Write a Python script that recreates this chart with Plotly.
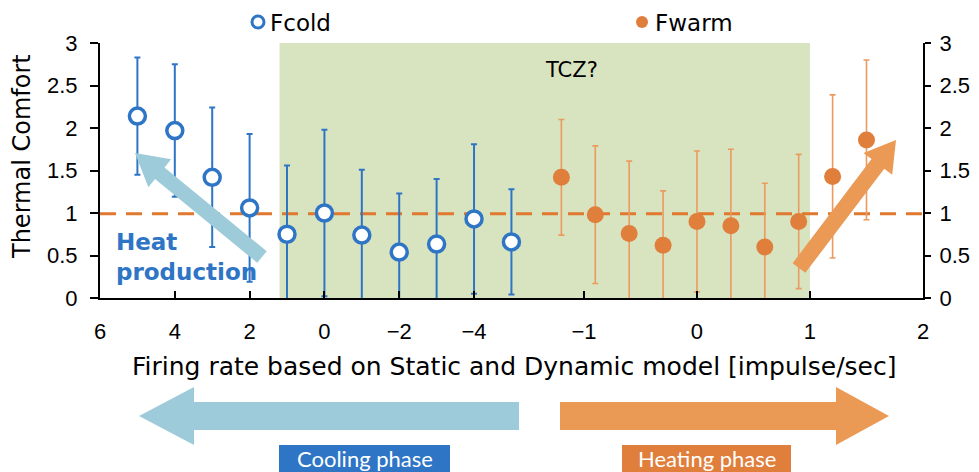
import plotly.graph_objects as go

# Thermal comfort vs. firing rate (static + dynamic model)
cold_x = [5, 4, 3, 2, 1, 0, -1, -2, -3, -4, -5]
cold_y = [2.14, 1.97, 1.42, 1.06, 0.75, 1.00, 0.74, 0.54, 0.635, 0.93, 0.66]
cold_err = [0.69, 0.78, 0.82, 0.87, 0.81, 0.98, 0.77, 0.69, 0.765, 0.88, 0.62]

warm_x = [-1.2, -0.9, -0.6, -0.3, 0.0, 0.3, 0.6, 0.9, 1.2, 1.5]
warm_y = [1.42, 0.98, 0.76, 0.62, 0.90, 0.85, 0.60, 0.90, 1.43, 1.86]
warm_err = [0.68, 0.81, 0.85, 0.64, 0.83, 0.90, 0.75, 0.79, 0.96, 0.94]

cold_ticks = [6, 4, 2, 0, -2, -4]
warm_ticks = [-1, 0, 1, 2]
y_ticks = [0, 0.5, 1, 1.5, 2, 2.5, 3]

comfort_level = 0.99
tcz_cold_start = 1.2   # left edge of the comfort zone on the cold scale
tcz_warm_end = 1.0     # right edge on the warm scale

BLUE = "#2e75c6"
ORANGE = "#e07e3c"
ORANGE_BAR = "#eb9a60"
CYAN_ARROW = "#9ecbda"
ORANGE_ARROW = "#eb9a56"
GREEN = "#d8e4bf"

W, H = 979, 472
L, R, T, B = 100, 56, 43, 174
PW, PH = W - L - R, H - T - B
SPLIT = (532 - L) / PW

COLD_RANGE = [6, -5.55]
WARM_RANGE = [-1.46, 2]


def px(x, y):
    """Pixel position -> paper coordinates."""
    return (x - L) / PW, (H - B - y) / PH


def cold_to_paper(v):
    return SPLIT * (v - COLD_RANGE[0]) / (COLD_RANGE[1] - COLD_RANGE[0])


def warm_to_paper(v):
    return SPLIT + (1 - SPLIT) * (v - WARM_RANGE[0]) / (WARM_RANGE[1] - WARM_RANGE[0])


def arrow_path(tail, tip, body_hw, head_hw, head_len):
    tx, ty = tail
    hx, hy = tip
    dx, dy = hx - tx, hy - ty
    n = (dx * dx + dy * dy) ** 0.5
    ux, uy = dx / n, dy / n
    nx, ny = -uy, ux
    bx, by = hx - ux * head_len, hy - uy * head_len
    pts = [
        (tx + nx * body_hw, ty + ny * body_hw),
        (bx + nx * body_hw, by + ny * body_hw),
        (bx + nx * head_hw, by + ny * head_hw),
        (hx, hy),
        (bx - nx * head_hw, by - ny * head_hw),
        (bx - nx * body_hw, by - ny * body_hw),
        (tx - nx * body_hw, ty - ny * body_hw),
    ]
    pp = [px(*p) for p in pts]
    return "M " + " L ".join(f"{a:.5f},{b:.5f}" for a, b in pp) + " Z"


fig = go.Figure()

fig.add_trace(go.Scatter(
    x=cold_x, y=cold_y, mode="markers", name="Fcold",
    xaxis="x", yaxis="y",
    marker=dict(size=16, color="white", line=dict(color=BLUE, width=3.5)),
    error_y=dict(type="data", array=cold_err, color=BLUE, thickness=2, width=3),
    showlegend=False,
))

fig.add_trace(go.Scatter(
    x=warm_x, y=warm_y, mode="markers", name="Fwarm",
    xaxis="x2", yaxis="y2",
    marker=dict(size=17, color=ORANGE),
    error_y=dict(type="data", array=warm_err, color=ORANGE_BAR, thickness=1.6, width=3),
    showlegend=False,
))

shapes = [
    # thermal comfort zone, spanning both scales
    dict(type="rect", xref="paper", yref="y",
         x0=cold_to_paper(tcz_cold_start), x1=warm_to_paper(tcz_warm_end),
         y0=0, y1=3, fillcolor=GREEN, line=dict(width=0), layer="below"),
    # neutral comfort level
    dict(type="line", xref="paper", yref="y", x0=0, x1=1,
         y0=comfort_level, y1=comfort_level,
         line=dict(color="#e0782f", width=3, dash="16px,10px"), layer="below"),
    # diagonal trend arrows
    dict(type="path", xref="paper", yref="paper",
         path=arrow_path((262, 257), (135, 153), 7.5, 18, 32),
         fillcolor=CYAN_ARROW, line=dict(width=0), layer="above"),
    dict(type="path", xref="paper", yref="paper",
         path=arrow_path((799, 268), (896, 140), 8, 18, 30),
         fillcolor=ORANGE_ARROW, line=dict(width=0), layer="above"),
    # phase arrows under the axis
    dict(type="path", xref="paper", yref="paper",
         path=arrow_path((519, 416), (139, 416), 14, 29, 55),
         fillcolor=CYAN_ARROW, line=dict(width=0), layer="above"),
    dict(type="path", xref="paper", yref="paper",
         path=arrow_path((560, 416), (889, 416), 14, 29, 53),
         fillcolor=ORANGE_ARROW, line=dict(width=0), layer="above"),
]

# legend markers
for cx, style in [(258, "open"), (642, "filled")]:
    x0, y0 = px(cx, 22)
    shapes.append(dict(
        type="circle", xref="paper", yref="paper", xsizemode="pixel", ysizemode="pixel",
        xanchor=x0, yanchor=y0, x0=-6, x1=6, y0=-6, y1=6,
        fillcolor="white" if style == "open" else ORANGE,
        line=dict(color=BLUE if style == "open" else ORANGE, width=3 if style == "open" else 0),
    ))

annotations = []


def note(text, x, y, size, color="black", xanchor="center", yanchor="middle",
         family="DejaVu Sans", **kw):
    ax, ay = px(x, y)
    annotations.append(dict(
        text=text, x=ax, y=ay, xref="paper", yref="paper", showarrow=False,
        xanchor=xanchor, yanchor=yanchor,
        font=dict(size=size, color=color, family=family), **kw))


note("Fcold", 268, 23, 23, xanchor="left")
note("Fwarm", 653, 23, 23, xanchor="left")
note("TCZ?", 571, 70, 21)
note("Thermal Comfort", 22, 157, 24, textangle=-90)
note("Firing rate based on Static and Dynamic model [impulse/sec]", 514, 366, 25)
note("Heat<br>production", 114, 257, 23, color=BLUE, xanchor="left",
     family="DejaVu Sans", align="left")
annotations[-1]["font"]["weight"] = "bold"

# phase labels: filled boxes running to the bottom edge
for label, x0, x1, color in [("Cooling phase", 279, 450, BLUE),
                             ("Heating phase", 622, 791, ORANGE)]:
    a0, b0 = px(x0, 445)
    a1, b1 = px(x1, 480)
    shapes.append(dict(type="rect", xref="paper", yref="paper",
                       x0=a0, x1=a1, y0=b1, y1=b0, fillcolor=color,
                       line=dict(width=0), layer="above"))
    note(label, (x0 + x1) / 2, 458, 22, color="white", family="Lato")

tick_font = dict(family="Liberation Sans", size=22, color="black")
axis_common = dict(showgrid=False, zeroline=False, showline=True, automargin=False,
                   linecolor="black", linewidth=2, tickcolor="black",
                   tickwidth=2, tickfont=tick_font)

fig.update_layout(
    width=W, height=H,
    margin=dict(l=L, r=R, t=T, b=B, autoexpand=False),
    paper_bgcolor="white", plot_bgcolor="white",
    xaxis=dict(domain=[0, SPLIT], range=COLD_RANGE, anchor="y",
               tickmode="array", tickvals=cold_ticks, ticks="inside", ticklen=7,
               ticklabelstandoff=13, **axis_common),
    xaxis2=dict(domain=[SPLIT, 1], range=WARM_RANGE, anchor="y",
                tickmode="array", tickvals=warm_ticks, ticks="inside", ticklen=7,
                ticklabelstandoff=13, **axis_common),
    yaxis=dict(range=[0, 3], tickmode="array", tickvals=y_ticks, anchor="x",
               ticks="outside", ticklen=8, ticklabelstandoff=8, **axis_common),
    yaxis2=dict(range=[0, 3], tickmode="array", tickvals=y_ticks, overlaying="y",
                side="right", anchor="x2", ticks="outside", ticklen=6,
                ticklabelstandoff=4, **axis_common),
    shapes=shapes,
    annotations=annotations,
    showlegend=False,
)

fig.write_html("out.html")
